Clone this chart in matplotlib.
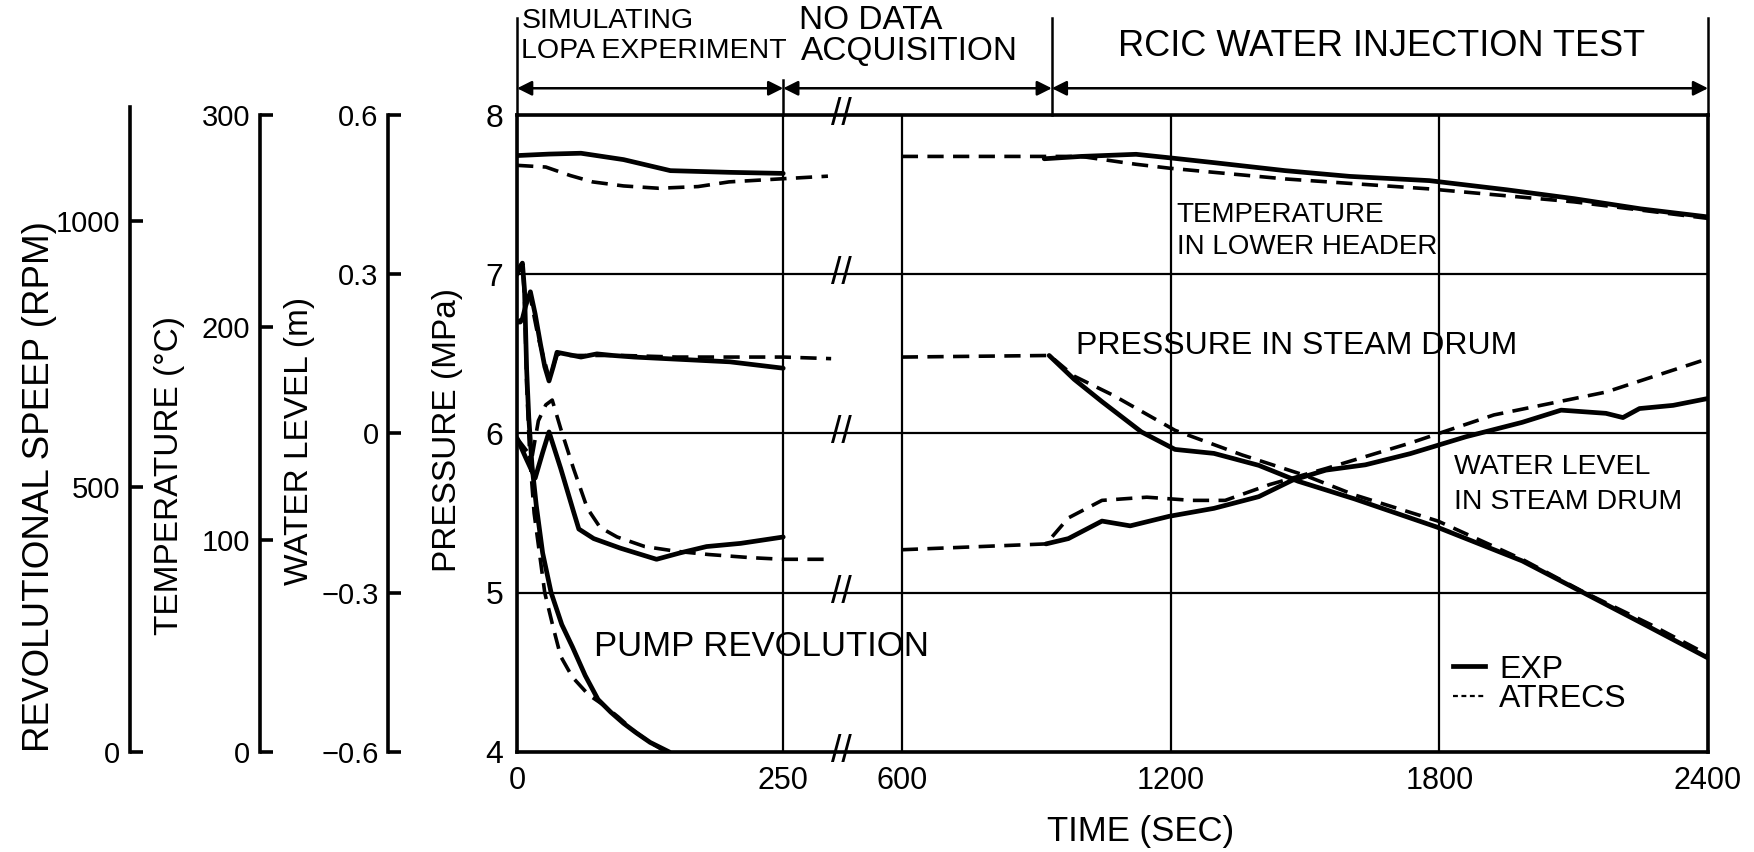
import numpy as np
import matplotlib
matplotlib.use('Agg')
import matplotlib.pyplot as plt
from matplotlib.lines import Line2D

FONT = ['Liberation Sans', 'DejaVu Sans']
plt.rcParams['font.family'] = FONT

# broken time axis: 0-300 s wide, 300-600 s squeezed into the gap, 600-2400 s compressed
t_knots = [-10000, 0, 300, 600, 2400, 12400]
x_knots = [-9520, 0, 285.6, 344, 1065, 5071]

def fwd(t):
    return np.interp(t, t_knots, x_knots)

def inv(x):
    return np.interp(x, x_knots, t_knots)

# ---- data ----
# pressure in steam drum (MPa)
t_p_exp_1 = [0, 3, 5, 8, 12.5, 17, 22, 26, 30, 34, 37.5, 45, 60, 75, 90, 110, 140, 170, 200, 225, 250]
p_exp_1 = [6.70, 6.70, 6.72, 6.80, 6.89, 6.75, 6.56, 6.42, 6.33, 6.42, 6.51, 6.50, 6.48, 6.50, 6.49,
           6.48, 6.47, 6.46, 6.45, 6.43, 6.41]
t_p_atr_1 = [0, 5, 12, 20, 30, 38, 50, 100, 150, 200, 250, 295]
p_atr_1 = [6.70, 6.72, 6.87, 6.60, 6.35, 6.50, 6.49, 6.49, 6.48, 6.48, 6.48, 6.47]
t_p_exp_2 = [929, 985, 1047, 1135, 1210, 1297, 1397, 1485, 1610, 1797, 1985, 2122, 2272, 2400]
p_exp_2 = [6.49, 6.34, 6.20, 6.01, 5.90, 5.875, 5.80, 5.70, 5.59, 5.41, 5.20, 5.00, 4.78, 4.59]
t_p_atr_2 = [600, 930, 985, 1072, 1210, 1360, 1497, 1610, 1797, 1985, 2122, 2272, 2400]
p_atr_2 = [6.48, 6.49, 6.36, 6.24, 6.02, 5.865, 5.74, 5.615, 5.45, 5.21, 5.005, 4.80, 4.61]

# temperature in lower header (deg C)
t_T_exp_1 = [0, 30, 60, 100, 144, 200, 250]
T_exp_1 = [280.9, 281.6, 282.0, 279.0, 273.8, 273.0, 272.5]
t_T_atr_1 = [0, 27, 50, 71, 100, 133, 170, 199, 250, 292]
T_atr_1 = [276.3, 275.5, 271.5, 268.5, 266.6, 265.5, 266.3, 268.5, 270.0, 271.2]
t_T_exp_2 = [918, 1000, 1123, 1200, 1300, 1456, 1600, 1778, 1950, 2101, 2250, 2400]
T_exp_2 = [279.4, 280.5, 281.5, 279.8, 277.5, 273.8, 271.1, 269.1, 264.8, 260.6, 255.8, 252.0]
t_T_atr_2 = [600, 1000, 1123, 1200, 1456, 1778, 2101, 2400]
T_atr_2 = [280.5, 280.5, 276.8, 274.9, 269.9, 265.2, 259.1, 251.3]

# water level in steam drum (m)
t_wl_exp_1 = [0, 8, 17, 24, 30, 41, 53, 58, 72, 97, 131, 153, 178, 210, 250]
wl_exp_1 = [-0.009, -0.045, -0.084, -0.036, 0.003, -0.066, -0.147, -0.18, -0.198, -0.216, -0.237,
            -0.225, -0.213, -0.207, -0.195]
t_wl_atr_1 = [0, 8, 14, 20, 27, 33, 41, 53, 66, 78, 94, 120, 150, 180, 220, 250, 295]
wl_atr_1 = [-0.009, -0.03, -0.045, 0.024, 0.054, 0.063, 0.009, -0.066, -0.141, -0.177, -0.195,
            -0.213, -0.222, -0.228, -0.234, -0.237, -0.237]
t_wl_exp_2 = [922, 972, 1047, 1110, 1197, 1297, 1397, 1472, 1547, 1635, 1735, 1860, 1985, 2072,
              2172, 2210, 2247, 2322, 2400]
wl_exp_2 = [-0.208, -0.198, -0.165, -0.174, -0.156, -0.141, -0.119, -0.088, -0.069, -0.059, -0.038,
            -0.006, 0.021, 0.044, 0.038, 0.030, 0.047, 0.053, 0.066]
t_wl_atr_2 = [600, 922, 972, 1047, 1147, 1247, 1322, 1422, 1547, 1735, 1922, 2172, 2400]
wl_atr_2 = [-0.219, -0.208, -0.159, -0.126, -0.120, -0.126, -0.126, -0.096, -0.066, -0.018, 0.035,
            0.078, 0.141]

# pump revolution (RPM)
t_rpm_exp = [0, 3, 5, 7, 9, 11, 14, 18, 24, 32, 42, 52, 64, 76, 88, 100, 112, 125, 143]
rpm_exp = [900, 915, 921, 870, 720, 630, 540, 465, 375, 300, 240, 198, 144, 99, 75, 54, 36, 18, 0]
t_rpm_atr = [0, 3, 5, 7, 9, 12, 16, 20, 26, 34, 41, 52, 67, 80, 95, 110, 125, 140]
rpm_atr = [900, 915, 921, 855, 690, 555, 450, 390, 300, 234, 180, 141, 108, 90, 66, 39, 18, 0]

x_ticks = [0, 250, 600, 1200, 1800, 2400]
p_ticks = [4, 5, 6, 7, 8]
rpm_ticks = [0, 500, 1000]
T_ticks = [0, 100, 200, 300]
wl_ticks = [-0.6, -0.3, 0, 0.3, 0.6]
wl_labels = ['\u22120.6', '\u22120.3', '0', '0.3', '0.6']

EXP = dict(color='black', lw=3.4, solid_capstyle='round')
ATR = dict(color='black', lw=2.6, dashes=(4.5, 2.6))

fig = plt.figure(figsize=(17.54, 8.52), dpi=100)
ax = fig.add_axes([0.2948, 0.1174, 0.679, 0.7476])
ax.set_xscale('function', functions=(fwd, inv))
ax.set_xlim(0, 2400)
ax.set_ylim(4, 8)
ax.set_xticks(x_ticks, [str(v) for v in x_ticks])
ax.set_yticks(p_ticks, [str(v) for v in p_ticks])
ax.minorticks_off()
ax.tick_params(length=0, labelsize=22, pad=10)
ax.tick_params(axis='y', labelsize=23)
ax.grid(True, color='black', lw=1.6)
for s in ax.spines.values():
    s.set_linewidth(2.6)


def side_axis(pos, lo, hi, ticks, labels):
    a = ax.twinx()
    a.set_ylim(lo, hi)
    for k in ['right', 'top', 'bottom']:
        a.spines[k].set_visible(False)
    a.spines['left'].set_visible(True)
    a.spines['left'].set_position(('axes', pos))
    a.spines['left'].set_linewidth(2.6)
    a.yaxis.set_ticks_position('left')
    a.set_yticks(ticks, labels)
    a.minorticks_off()
    a.tick_params(axis='y', direction='in', length=9, width=2.6, labelsize=21, pad=7)
    return a


ax_rpm = side_axis(-0.325, 0, 1200, rpm_ticks, [str(v) for v in rpm_ticks])
ax_rpm.spines['left'].set_bounds(0, 1215)
ax_T = side_axis(-0.216, 0, 300, T_ticks, [str(v) for v in T_ticks])
ax_wl = side_axis(-0.108, -0.6, 0.6, wl_ticks, wl_labels)

# curves
ax.plot(t_p_exp_1, p_exp_1, **EXP)
ax.plot(t_p_atr_1, p_atr_1, **ATR)
ax.plot(t_p_exp_2, p_exp_2, **EXP)
ax.plot(t_p_atr_2, p_atr_2, **ATR)
ax_T.plot(t_T_exp_1, T_exp_1, **EXP)
ax_T.plot(t_T_atr_1, T_atr_1, **ATR)
ax_T.plot(t_T_exp_2, T_exp_2, **EXP)
ax_T.plot(t_T_atr_2, T_atr_2, **ATR)
ax_wl.plot(t_wl_exp_1, wl_exp_1, **EXP)
ax_wl.plot(t_wl_atr_1, wl_atr_1, **ATR)
ax_wl.plot(t_wl_exp_2, wl_exp_2, **EXP)
ax_wl.plot(t_wl_atr_2, wl_atr_2, **ATR)
ax_rpm.plot(t_rpm_exp, rpm_exp, **EXP)
ax_rpm.plot(t_rpm_atr, rpm_atr, **ATR)

# axis break marks
for y in p_ticks:
    ax.text(322, y, '//', ha='center', va='center', fontsize=27, clip_on=False)

# phase annotations above the plot
tr = ax.get_xaxis_transform()
for t in [0, 935, 2400]:
    ax.plot([t, t], [1.0, 1.152], transform=tr, clip_on=False, color='black', lw=1.8)
ax.plot([250, 250], [1.0, 1.055], transform=tr, clip_on=False, color='black', lw=1.8)
for a, b in [(0, 250), (250, 935), (935, 2400)]:
    ax.annotate('', xy=(b, 1.042), xytext=(a, 1.042), xycoords=tr, textcoords=tr,
                arrowprops=dict(arrowstyle='<|-|>', color='black', lw=1.8,
                                shrinkA=0, shrinkB=0, mutation_scale=22))
ax.text(4, 1.148, 'SIMULATING', transform=tr, fontsize=20.5, ha='left', va='center')
ax.text(4, 1.10, 'LOPA EXPERIMENT', transform=tr, fontsize=20.5, ha='left', va='center')
ax.text(265, 1.148, 'NO DATA', transform=tr, fontsize=24, ha='left', va='center')
ax.text(267, 1.10, 'ACQUISITION', transform=tr, fontsize=24, ha='left', va='center')
ax.text(1671, 1.107, 'RCIC WATER INJECTION TEST', transform=tr, fontsize=26, ha='center', va='center')

# curve labels
ax.text(1214, 7.27, 'TEMPERATURE\nIN LOWER HEADER', fontsize=20, ha='left', va='center', linespacing=1.3)
ax.text(989, 6.55, 'PRESSURE IN STEAM DRUM', fontsize=23, ha='left', va='center')
ax.text(1833, 5.68, 'WATER LEVEL\nIN STEAM DRUM', fontsize=20.5, ha='left', va='center', linespacing=1.45)
ax.text(72, 4.66, 'PUMP REVOLUTION', fontsize=25, ha='left', va='center')

handles = [Line2D([], [], color='black', lw=3.4),
           Line2D([], [], color='black', lw=1.6, dashes=(2.2, 1.6))]
ax.legend(handles, ['EXP', 'ATRECS'], loc='upper left', bbox_to_anchor=(0.767, 0.188),
          frameon=False, handlelength=1.0, handletextpad=0.45, labelspacing=-0.02,
          borderpad=0.2, prop=dict(size=23))

# axis titles
fig.text(0.0223, 0.429, 'REVOLUTIONAL SPEEP (RPM)', rotation=90, ha='center', va='center', fontsize=26.5)
fig.text(0.0969, 0.442, 'TEMPERATURE (\u00b0C)', rotation=90, ha='center', va='center', fontsize=24)
fig.text(0.171, 0.482, 'WATER LEVEL (m)', rotation=90, ha='center', va='center', fontsize=24)
fig.text(0.255, 0.495, 'PRESSURE (MPa)', rotation=90, ha='center', va='center', fontsize=24)
fig.text(0.650, 0.024, 'TIME (SEC)', ha='center', va='center', fontsize=25)

fig.savefig('out.png', dpi=100)
